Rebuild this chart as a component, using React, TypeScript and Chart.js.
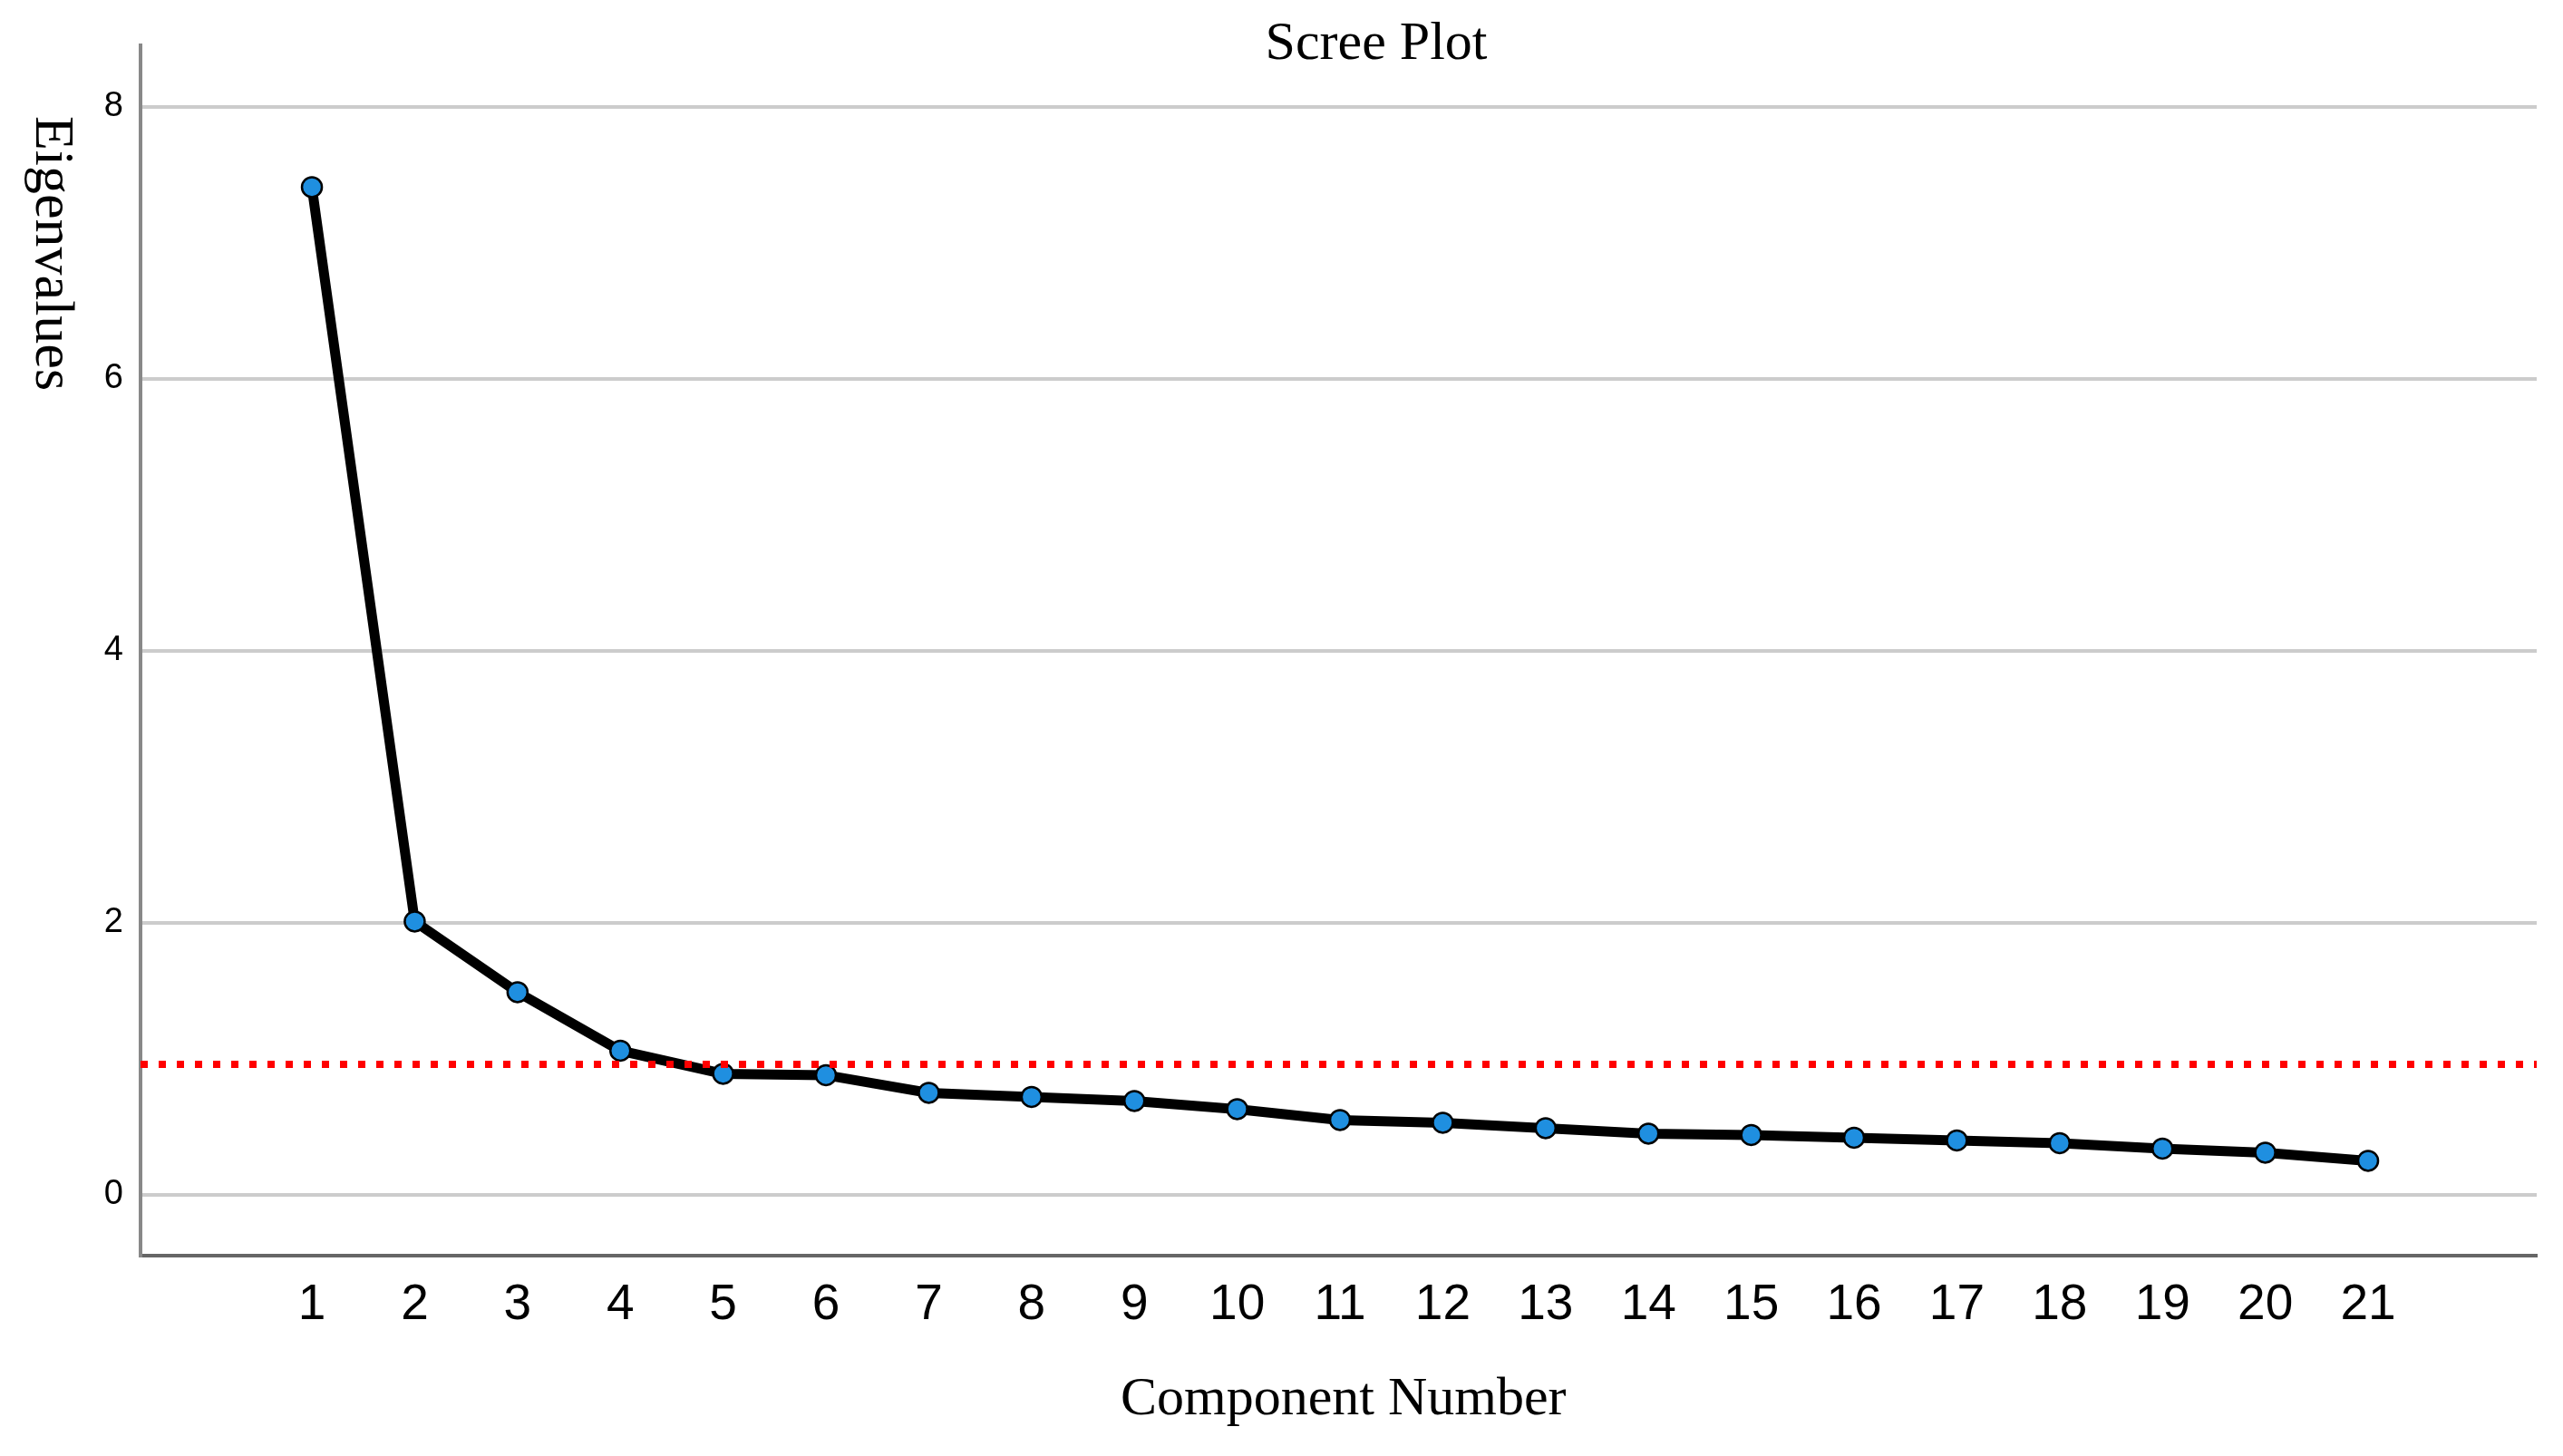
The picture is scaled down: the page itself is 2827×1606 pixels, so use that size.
import React, { useEffect, useRef } from 'react';
import { Chart, registerables } from 'chart.js';

Chart.register(...registerables);

// ---- data ----
const components = [1, 2, 3, 4, 5, 6, 7, 8, 9, 10, 11, 12, 13, 14, 15, 16, 17, 18, 19, 20, 21];
const eigenvalues = [7.41, 2.01, 1.49, 1.06, 0.89, 0.88, 0.75, 0.72, 0.69, 0.63, 0.55, 0.53, 0.49, 0.45, 0.44, 0.42, 0.4, 0.38, 0.34, 0.31, 0.25];
const cutoffValue = 0.96;
const yTickValues = [0, 2, 4, 6, 8];
const xMin = -0.667;
const xMax = 22.64;
const yMin = -0.447;
const yMax = 8.453;
const chartTitle = 'Scree Plot';
const xAxisTitle = 'Component Number';
const yAxisTitle = 'Eigenvalues';

const SERIF = '"Liberation Serif", "Times New Roman", serif';
const SANS_NARROW = '"Liberation Sans Narrow", "Liberation Sans", Arial, sans-serif';

const textPlugin = {
  id: 'screeTexts',
  afterDraw(chart: any) {
    const { ctx, chartArea } = chart;
    const w = chartArea.right - chartArea.left;
    ctx.save();
    ctx.fillStyle = '#000000';
    ctx.font = `60px ${SERIF}`;
    ctx.textBaseline = 'alphabetic';
    ctx.textAlign = 'center';
    ctx.fillText(chartTitle, chartArea.left + w * 0.5157, chartArea.top + 15);
    ctx.fillText(xAxisTitle, chartArea.left + w * 0.502, chartArea.bottom + 175);
    ctx.font = `62px ${SERIF}`;
    ctx.translate(chartArea.left - 115, chartArea.top + 78);
    ctx.rotate(Math.PI / 2);
    ctx.textAlign = 'left';
    ctx.fillText(yAxisTitle, 0, 0);
    ctx.restore();
  },
};

export default function App() {
  const canvasRef = useRef<HTMLCanvasElement | null>(null);

  useEffect(() => {
    if (!canvasRef.current) return;
    const chart = new Chart(canvasRef.current, {
      type: 'line',
      data: {
        datasets: [
          {
            label: 'Cutoff',
            data: [
              { x: xMin, y: cutoffValue },
              { x: xMax, y: cutoffValue },
            ],
            borderColor: '#ff0000',
            borderWidth: 8,
            borderDash: [8, 12],
            pointRadius: 0,
            fill: false,
            order: 0,
          },
          {
            label: 'Eigenvalues',
            data: components.map((c, i) => ({ x: c, y: eigenvalues[i] })),
            borderColor: '#000000',
            borderWidth: 11,
            pointRadius: 11,
            pointBackgroundColor: '#1f8fe0',
            pointBorderColor: '#000000',
            pointBorderWidth: 2.5,
            fill: false,
            tension: 0,
            order: 1,
          },
        ],
      },
      options: {
        animation: false,
        responsive: false,
        devicePixelRatio: 1,
        layout: { padding: { left: 0, top: 50, right: 29, bottom: 0 } },
        plugins: {
          legend: { display: false },
          title: { display: false },
          tooltip: { enabled: false },
        },
        scales: {
          x: {
            type: 'linear',
            min: xMin,
            max: xMax,
            afterBuildTicks: (scale: any) => {
              scale.ticks = components.map((v) => ({ value: v }));
            },
            afterFit: (scale: any) => {
              scale.height = 221;
            },
            grid: { display: false, drawTicks: false },
            border: { display: true, color: '#666666', width: 4 },
            ticks: {
              autoSkip: false,
              maxRotation: 0,
              minRotation: 0,
              padding: 22,
              color: '#000000',
              font: { family: SANS_NARROW, size: 55 },
              callback: (v: any) => String(v),
            },
          },
          y: {
            type: 'linear',
            min: yMin,
            max: yMax,
            afterBuildTicks: (scale: any) => {
              scale.ticks = yTickValues.map((v) => ({ value: v }));
            },
            afterFit: (scale: any) => {
              scale.width = 155;
            },
            grid: { color: '#cccccc', lineWidth: 4, drawTicks: false },
            border: { display: true, color: '#888888', width: 4 },
            ticks: {
              padding: 19,
              color: '#000000',
              font: { family: SANS_NARROW, size: 38 },
              callback: (v: any) => String(v),
            },
          },
        },
      },
      plugins: [textPlugin],
    });
    return () => chart.destroy();
  }, []);

  return (
    <div style={{ position: 'fixed', left: 0, top: 0, width: 2827, height: 1606, background: '#ffffff' }}>
      <canvas ref={canvasRef} width={2827} height={1606} style={{ width: 2827, height: 1606, display: 'block' }} />
    </div>
  );
}
